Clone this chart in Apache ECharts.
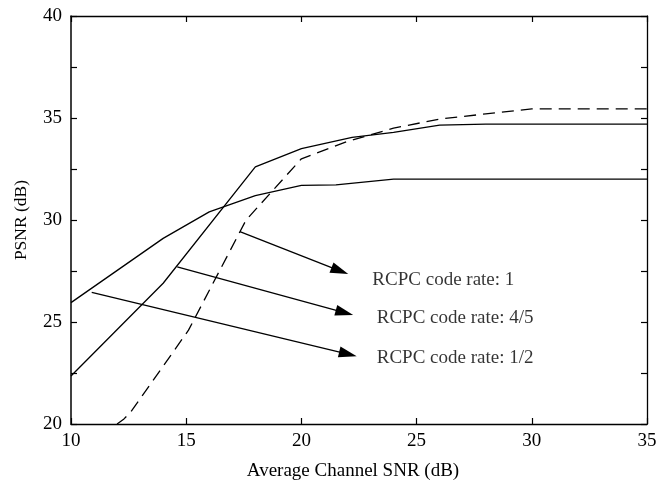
<!DOCTYPE html>
<html>
<head>
<meta charset="utf-8">
<script src="https://cdn.jsdelivr.net/npm/echarts@6/dist/echarts.min.js"></script>
<style>
  html, body { margin: 0; padding: 0; background: #fff; }
  #chart { width: 659px; height: 491px; }
</style>
</head>
<body>
<div id="chart"></div>
<script>
// curves (x = average channel SNR, y = PSNR)
const rate1Snr = [12, 12.3, 12.6, 15.1, 17.6, 20, 22, 24, 26, 28, 30, 35];
const rate1Psnr = [20, 20.25, 20.6, 24.6, 30.0, 33.0, 33.85, 34.5, 34.95, 35.2, 35.45, 35.45];

const rate45Snr = [10, 14, 18, 20, 22.2, 24, 26, 28, 30, 35];
const rate45Psnr = [22.35, 26.9, 32.6, 33.5, 34.05, 34.3, 34.65, 34.7, 34.7, 34.7];

const rate12Snr = [10, 14, 16, 18, 20, 21.5, 24, 26, 28, 30, 35];
const rate12Psnr = [25.95, 29.1, 30.4, 31.2, 31.7, 31.72, 32.0, 32.0, 32.0, 32.0, 32.0];

// annotation arrows: tail on a curve, head near the label
const arrowTails = [[17.33, 29.43], [14.61, 27.7], [10.9, 26.45]];
const arrowHeads = [[21.67, 27.51], [21.87, 25.46], [22.02, 23.43]];
const labelAnchors = [[23.08, 27.06], [23.27, 25.2], [23.27, 23.24]];
const labelTexts = ["RCPC code rate: 1", "RCPC code rate: 4/5", "RCPC code rate: 1/2"];

const xTicks = { min: 10, max: 35, interval: 5 };
const yTicks = { min: 20, max: 40, interval: 5 };

const font = "Liberation Serif";
const pairs = (xs, ys) => xs.map((x, i) => [x, ys[i]]);

const chart = echarts.init(document.getElementById("chart"));

const tickStyle = { lineStyle: { color: "#000", width: 1.2 } };

function lineSeries(name, data, dashed) {
  return {
    name: name,
    type: "line",
    data: data,
    showSymbol: false,
    symbol: "none",
    clip: true,
    lineStyle: { color: "#000", width: 1.3, type: dashed ? [12, 7] : "solid" },
    silent: true,
  };
}

chart.setOption({
  animation: false,
  backgroundColor: "#fff",
  textStyle: { fontFamily: font },
  grid: { left: 71, right: 12, top: 16, bottom: 67, containLabel: false, outerBoundsMode: "none" },
  xAxis: [
    {
      type: "value",
      min: xTicks.min, max: xTicks.max, interval: xTicks.interval,
      name: "Average Channel SNR (dB)",
      nameLocation: "middle",
      nameGap: 38,
      nameTextStyle: { fontFamily: font, fontSize: 19, color: "#000", padding: [0, 12, 0, 0] },
      axisLine: { lineStyle: { color: "#000", width: 1.3 } },
      axisTick: Object.assign({ inside: true, length: 6 }, tickStyle),
      axisLabel: { fontFamily: font, fontSize: 19, color: "#000", margin: 8 },
      splitLine: { show: false },
    },
    {
      type: "value",
      position: "top",
      min: xTicks.min, max: xTicks.max, interval: xTicks.interval,
      axisLine: { lineStyle: { color: "#000", width: 1.3 } },
      axisTick: Object.assign({ inside: true, length: 6 }, tickStyle),
      axisLabel: { show: false },
      splitLine: { show: false },
    },
  ],
  yAxis: [
    {
      type: "value",
      min: yTicks.min, max: yTicks.max, interval: yTicks.interval,
      name: "PSNR (dB)",
      nameLocation: "middle",
      nameGap: 41,
      nameTextStyle: { fontFamily: font, fontSize: 17.5, color: "#000" },
      axisLine: { show: true, lineStyle: { color: "#000", width: 1.5 } },
      axisTick: Object.assign({ show: true, inside: true, length: 6 }, tickStyle),
      minorTick: { show: true, splitNumber: 2, length: 6, lineStyle: { color: "#000", width: 1.2 } },
      axisLabel: { fontFamily: font, fontSize: 19, color: "#000", margin: 9 },
      splitLine: { show: false },
      minorSplitLine: { show: false },
    },
    {
      type: "value",
      position: "right",
      min: yTicks.min, max: yTicks.max, interval: yTicks.interval,
      axisLine: { show: true, lineStyle: { color: "#000", width: 1.3 } },
      axisTick: Object.assign({ show: true, inside: true, length: 6 }, tickStyle),
      minorTick: { show: true, splitNumber: 2, length: 6, lineStyle: { color: "#000", width: 1.2 } },
      axisLabel: { show: false },
      splitLine: { show: false },
      minorSplitLine: { show: false },
    },
  ],
  series: [
    lineSeries("RCPC code rate: 1", pairs(rate1Snr, rate1Psnr), true),
    lineSeries("RCPC code rate: 4/5", pairs(rate45Snr, rate45Psnr), false),
    Object.assign(lineSeries("RCPC code rate: 1/2", pairs(rate12Snr, rate12Psnr), false), {
      markLine: {
        silent: true,
        animation: false,
        symbol: ["none", "triangle"],
        label: { show: false },
        emphasis: { disabled: true },
        lineStyle: { color: "#000", width: 1.3, type: "solid" },
        data: arrowTails.map((t, i) => [
          { coord: t, symbol: "none" },
          { coord: arrowHeads[i], symbol: "triangle", symbolSize: [11, 18] },
        ]),
      },
    }),
    {
      type: "scatter",
      symbolSize: 0,
      silent: true,
      data: labelAnchors.map((p, i) => ({ value: p, name: labelTexts[i] })),
      label: {
        show: true,
        position: "right",
        distance: 0,
        formatter: (p) => p.name,
        fontFamily: font,
        fontSize: 19,
        color: "#000",
      },
    },
  ],
});
</script>
</body>
</html>
